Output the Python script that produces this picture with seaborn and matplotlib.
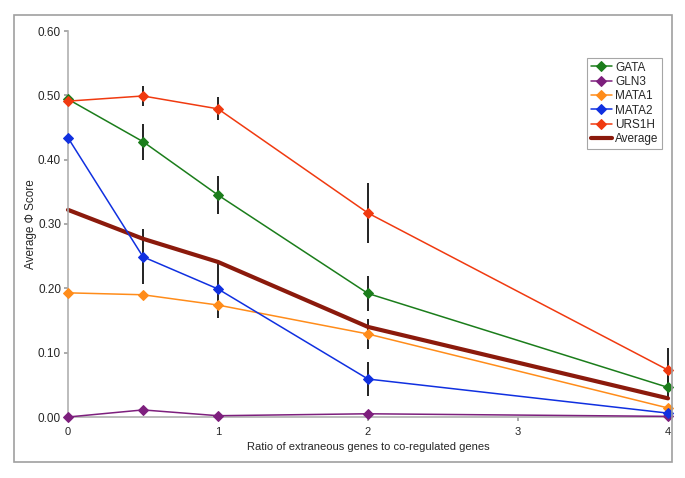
import pandas as pd
import matplotlib.pyplot as plt
import matplotlib.patches as mpatches
import seaborn as sns

sns.set_theme(style="white")
plt.rcParams['font.family'] = ['Liberation Sans', 'DejaVu Sans']

ratio = [0, 0.5, 1, 2, 4]
gata = [0.494, 0.428, 0.345, 0.192, 0.046]
gln3 = [0.000, 0.011, 0.002, 0.005, 0.001]
mata1 = [0.193, 0.190, 0.174, 0.129, 0.014]
mata2 = [0.434, 0.249, 0.199, 0.059, 0.006]
urs1h = [0.491, 0.499, 0.479, 0.317, 0.073]
average = [0.322, 0.277, 0.241, 0.140, 0.029]

# error bar half-widths (0 = none drawn)
gata_err = [0, 0.028, 0.029, 0.027, 0.020]
gln3_err = [0, 0.004, 0, 0, 0]
mata1_err = [0, 0, 0, 0.024, 0]
mata2_err = [0, 0.043, 0.045, 0.026, 0]
urs1h_err = [0, 0.016, 0.018, 0.046, 0.035]

series = [
    ('GATA', gata, gata_err, '#1b7d1b'),
    ('GLN3', gln3, gln3_err, '#7d1f7d'),
    ('MATA1', mata1, mata1_err, '#ff8c1a'),
    ('MATA2', mata2, mata2_err, '#1030e0'),
    ('URS1H', urs1h, urs1h_err, '#f03a10'),
]

fig = plt.figure(figsize=(6.85, 4.78), dpi=100)
fig.patches.append(mpatches.Rectangle((14 / 685, 1 - 462 / 478), 658 / 685, 447 / 478,
                                      transform=fig.transFigure, fill=False,
                                      edgecolor='#a0a0a0', linewidth=1.2))
ax = fig.add_axes([68 / 685, 1 - 417 / 478, 600 / 685, 386 / 478])

for name, vals, err, col in series:
    df = pd.DataFrame({'ratio': ratio, 'score': vals, 'err': err})
    bars = df[df['err'] > 0]
    ax.errorbar(bars['ratio'], bars['score'], yerr=bars['err'], fmt='none',
                ecolor='#222222', elinewidth=1.4, capsize=0, zorder=2, clip_on=False)
    sns.lineplot(data=df, x='ratio', y='score', color=col, marker='D', markersize=5,
                 markeredgecolor=col, linewidth=1.1, label=name, ax=ax, zorder=3)

df_avg = pd.DataFrame({'ratio': ratio, 'score': average})
sns.lineplot(data=df_avg, x='ratio', y='score', color='#8b1a0c', linewidth=3,
             label='Average', ax=ax, zorder=2.5)

for ln in ax.lines:
    ln.set_clip_on(False)

ax.set_xlim(0, 4)
ax.set_ylim(0, 0.6)
ax.set_xticks([0, 1, 2, 3, 4])
ax.set_xticklabels(['0', '1', '2', '3', '4'])
ax.set_yticks([0, 0.1, 0.2, 0.3, 0.4, 0.5, 0.6])
ax.set_yticklabels(['%.2f' % v for v in [0, 0.1, 0.2, 0.3, 0.4, 0.5, 0.6]])
ax.tick_params(axis='y', labelsize=8.5, length=3, color='#a0a0a0', pad=2, direction='out', left=True)
ax.tick_params(axis='x', labelsize=8, length=3, color='#a0a0a0', pad=4, direction='out', bottom=True)
for s in ['top', 'right']:
    ax.spines[s].set_visible(False)
for s in ['left', 'bottom']:
    ax.spines[s].set_color('#b0b0b0')
    ax.spines[s].set_linewidth(1.2)
ax.set_xlabel('Ratio of extraneous genes to co-regulated genes', fontsize=8)
ax.xaxis.set_label_coords(0.5, -0.065)
ax.set_ylabel('Average Φ Score', fontsize=8.5)
ax.yaxis.set_label_coords(-0.052, 0.5)

leg = ax.legend(loc='upper left', bbox_to_anchor=(519 / 600, 1 - 27 / 386), fontsize=8.5,
                frameon=True, fancybox=False, borderpad=0.3, labelspacing=0.2,
                handlelength=1.8, handletextpad=0.3, borderaxespad=0)
leg.get_frame().set_edgecolor('#909090')
leg.get_frame().set_linewidth(0.8)

plt.savefig('out.png', dpi=100)
